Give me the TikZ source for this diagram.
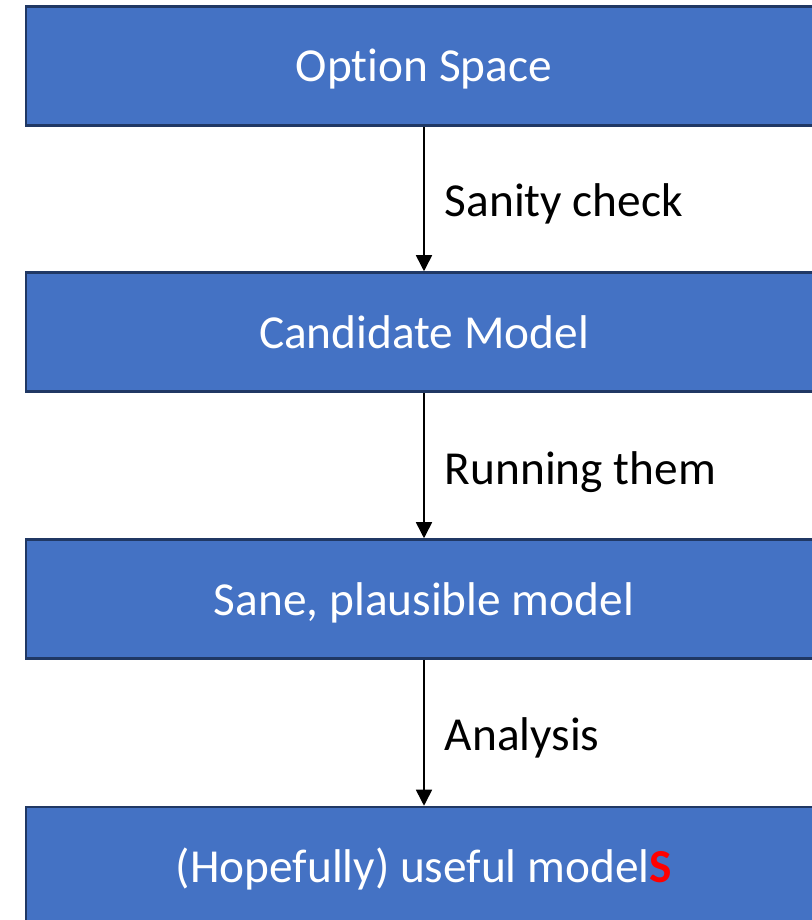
\documentclass[tikz,border=0pt]{standalone}
\usepackage{fontspec}
\setmainfont{Carlito}[Ligatures={NoCommon}]
\usetikzlibrary{arrows.meta}
\definecolor{boxfill}{HTML}{4472C4}
\definecolor{boxline}{HTML}{203864}
\definecolor{hilite}{HTML}{FF0000}
\begin{document}
\begin{tikzpicture}[x=0.75pt,y=-0.75pt,
  stagebox/.style={draw=boxline,fill=boxfill,line width=1.9pt,
    minimum width=796*0.75pt,minimum height=119*0.75pt,
    inner sep=0pt,text height=30pt,text depth=6pt,
    text=white,font=\fontsize{35.5pt}{40pt}\selectfont},
  steplabel/.style={anchor=base west,inner sep=0pt,text=black,
    font=\fontsize{35.5pt}{40pt}\selectfont},
  flow/.style={draw=black,line width=1.2pt,-{Triangle[width=12pt,length=12pt]}}]
\useasboundingbox (0,0) rectangle (812,920);
\clip (0,0) rectangle (812,920);
% four stages, stacked
\node[stagebox] (s1) at (424,66)  {Option Space};
\node[stagebox] (s2) at (424,332) {Candidate Model};
\node[stagebox] (s3) at (424,599) {Sane, plausible model};
\node[stagebox] (s4) at (424,866.5) {(Hopefully) useful model\textcolor{hilite}{\textbf{S}}};
% transitions with their labels
\draw[flow] (s1) -- (s2) node[steplabel,midway,xshift=15pt,yshift=-13.3pt] (l1) {Sanity check};
\draw[flow] (s2) -- (s3) node[steplabel,midway,xshift=15pt,yshift=-14pt] (l2) {Running them};
\draw[flow] (s3) -- (s4) node[steplabel,midway,xshift=15pt,yshift=-13.3pt] (l3) {Analysis};
\end{tikzpicture}
\end{document}
